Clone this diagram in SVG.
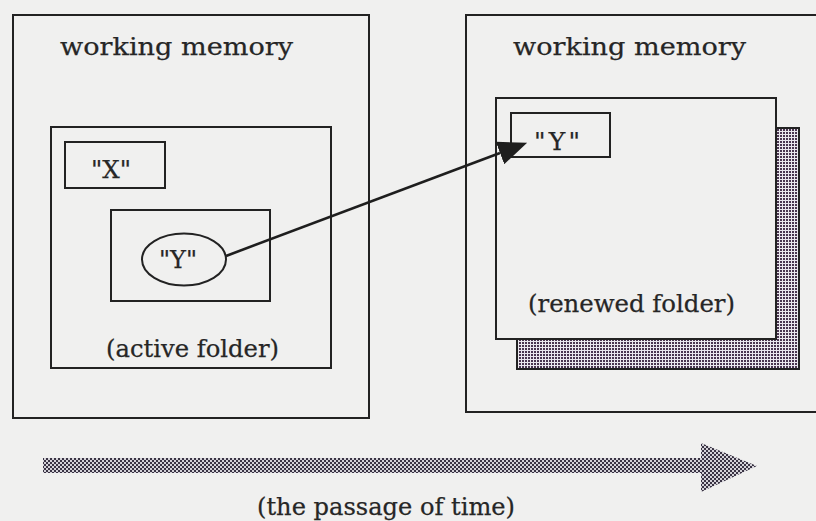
<svg xmlns="http://www.w3.org/2000/svg" width="816" height="521" viewBox="0 0 816 521">
  <defs>
    <!-- fine dot screen used for the folder shadow -->
    <pattern id="dots" width="3" height="3" patternUnits="userSpaceOnUse">
      <rect width="3" height="3" fill="#ebe8ee"/>
      <rect width="2" height="2" fill="#4a3650"/>
    </pattern>
    <!-- checker screen used for the time arrow -->
    <pattern id="checker" width="4" height="4" patternUnits="userSpaceOnUse">
      <rect width="4" height="4" fill="#d4d2d8"/>
      <rect width="2" height="2" fill="#3a3444"/>
      <rect x="2" y="2" width="2" height="2" fill="#3a3444"/>
    </pattern>
    <marker id="head" markerUnits="userSpaceOnUse" viewBox="0 -12 29 24" refX="0" refY="0"
            markerWidth="29" markerHeight="24" orient="auto">
      <path d="M0,-12 L29,0 L0,12 Z" fill="#1e1e1e"/>
    </marker>
    <style>
      .box { fill: none; stroke: #222; stroke-width: 2; }
      .lbl { font-family: "DejaVu Serif", "Liberation Serif", serif; fill: #262626; stroke: #262626; stroke-width: 0.25; }
      .big { font-size: 25px; }
      .mid { font-size: 24px; }
    </style>
  </defs>

  <rect width="816" height="521" fill="#f0f0ef"/>

  <!-- earlier moment: working memory with the active folder -->
  <g id="memory-before">
    <rect class="box" x="13" y="15" width="356" height="403"/>
    <text class="lbl big" x="60" y="55" textLength="233" lengthAdjust="spacingAndGlyphs">working memory</text>
  </g>
  <g id="active-folder">
    <rect class="box" x="51" y="127" width="280" height="241"/>
    <text class="lbl mid" x="106" y="357" textLength="173" lengthAdjust="spacingAndGlyphs">(active folder)</text>
  </g>
  <g id="item-x">
    <rect class="box" x="65" y="142" width="100" height="46"/>
    <text class="lbl mid" x="91" y="178" textLength="40" lengthAdjust="spacingAndGlyphs">"X"</text>
  </g>
  <g id="item-y-frame">
    <rect class="box" x="111" y="210" width="159" height="91"/>
  </g>
  <g id="item-y-old">
    <ellipse class="box" cx="184" cy="259.5" rx="42" ry="26"/>
    <text class="lbl mid" x="159" y="268" textLength="38" lengthAdjust="spacingAndGlyphs">"Y"</text>
  </g>

  <!-- later moment: working memory with the renewed folder -->
  <g id="memory-after">
    <rect class="box" x="466" y="15" width="362" height="397"/>
    <text class="lbl big" x="513" y="55" textLength="233" lengthAdjust="spacingAndGlyphs">working memory</text>
  </g>
  <g id="renewed-folder">
    <rect x="517" y="128" width="282" height="241" fill="url(#dots)" stroke="#222" stroke-width="2"/>
    <rect x="496" y="98" width="280" height="241" fill="#f0f0ef" stroke="#222" stroke-width="2"/>
    <text class="lbl mid" x="528" y="312" textLength="207" lengthAdjust="spacingAndGlyphs">(renewed folder)</text>
  </g>
  <g id="item-y-new">
    <rect class="box" x="511" y="113" width="99" height="44"/>
    <text class="lbl big" x="534" y="150" textLength="46" lengthAdjust="spacing">"Y"</text>
  </g>

  <!-- connectors -->
  <g id="connectors">
    <path d="M226,256 L500,153" fill="none" stroke="#1e1e1e" stroke-width="2.6" marker-end="url(#head)"/>
  </g>

  <!-- time axis -->
  <g id="time-axis">
    <path d="M43,458 H701 V443 L757,466 L701,492 V473 H43 Z" fill="url(#checker)"/>
    <text class="lbl big" x="257" y="515" textLength="258" lengthAdjust="spacingAndGlyphs">(the passage of time)</text>
  </g>
</svg>
